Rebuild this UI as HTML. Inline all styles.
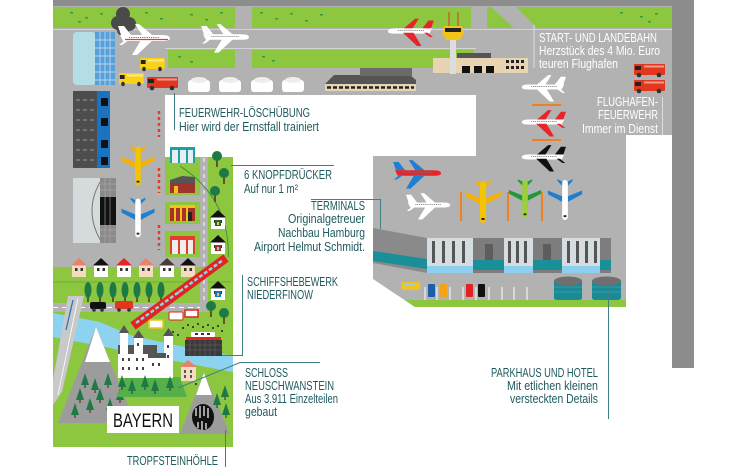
<!DOCTYPE html>
<html><head><meta charset="utf-8"><style>
html,body{margin:0;padding:0;background:#fff;}
svg{display:block;}
.t{font-family:"Liberation Sans Narrow","Liberation Sans",sans-serif;font-size:13px;fill:#1f5a5e;}
.w{font-family:"Liberation Sans Narrow","Liberation Sans",sans-serif;font-size:13px;fill:#fff;}
</style></head><body>
<svg width="748" height="467" viewBox="0 0 748 467" xmlns="http://www.w3.org/2000/svg">
<defs>
<g id="pside">
 <polygon points="-24,-3 -27,-12 -21,-12 -14,-3" fill="currentColor"/>
 <polygon points="-3,-3 -10,-14 -6,-14 7,-3" fill="currentColor"/>
 <path d="M-25,-3 L17,-3 Q25,-3 25,0.5 Q25,3 17,3 L-22,3 Z"/>
 <polygon points="-4,2 -13,17 -8,17 8,2" fill="currentColor"/>
 <polygon points="-20,2 -26,7 -23,7 -16,2" fill="currentColor"/>
 <line x1="-16" y1="-0.5" x2="14" y2="-0.5" stroke="#777" stroke-width="1" stroke-dasharray="1.2 1"/>
</g>
<g id="ptop">
 <polygon points="-3,2 -18,-6 -18,-10 -3,-4" fill="currentColor"/>
 <polygon points="3,2 18,-6 18,-10 3,-4" fill="currentColor"/>
 <polygon points="-2,-14 -8,-20 -8,-22 -2,-19" fill="currentColor"/>
 <polygon points="2,-14 8,-20 8,-22 2,-19" fill="currentColor"/>
 <rect x="-3" y="-21" width="6" height="42" rx="3"/>
 <rect x="-1.5" y="16" width="3" height="2" fill="#222"/>
</g>
<g id="house">
 <rect x="-7" y="0" width="14" height="12"/>
 <polygon points="-8,0.5 0,-7 8,0.5" fill="currentColor"/>
 <rect x="-4" y="3" width="2.5" height="3" fill="#333"/>
 <rect x="1.5" y="3" width="2.5" height="3" fill="#333"/>
</g>
<g id="ctree">
 <rect x="-0.8" y="4" width="1.6" height="8" fill="#5a3a1a"/>
 <ellipse cx="0" cy="0" rx="3.5" ry="8" fill="#1e7a45"/>
</g>
<g id="rtree">
 <rect x="-0.8" y="2" width="1.6" height="9" fill="#5a3a1a"/>
 <circle cx="0" cy="0" r="5" fill="#1e7a45"/>
</g>
<g id="stree">
 <polygon points="0,-7 -4,5 4,5" fill="#1e7a45"/>
 <rect x="-0.6" y="5" width="1.2" height="3" fill="#5a3a1a"/>
</g>
<g id="truck">
 <rect x="0" y="0" width="31" height="11" rx="1" fill="currentColor"/>
 <rect x="1" y="2" width="6" height="4" fill="#222"/>
 <rect x="10" y="1.5" width="20" height="2" fill="#fff" opacity="0.5"/>
 <circle cx="5" cy="11" r="2.3" fill="#333"/><circle cx="25" cy="11" r="2.3" fill="#333"/>
</g>
</defs>

<rect width="748" height="467" fill="#fff"/>

<!-- main gray -->
<polygon points="53,6 672,6 672,135 626,135 626,307 415,307 373,279 373,156 476,156 476,95 165,95 165,270 53,270" fill="#b2b2b2"/>
<rect x="53" y="0" width="641" height="6" fill="#8d8d8d"/>
<rect x="672" y="0" width="22" height="368" fill="#8d8d8d"/>

<!-- runway lines -->
<line x1="53" y1="29.5" x2="672" y2="29.5" stroke="#d4d4d4" stroke-width="1"/>
<line x1="165" y1="48.5" x2="476" y2="48.5" stroke="#d4d4d4" stroke-width="1"/>
<line x1="534" y1="7" x2="534" y2="68" stroke="#e0e0e0" stroke-width="1"/>

<!-- green strips -->
<rect x="53" y="7" width="182" height="21" fill="#8dc63f"/>
<rect x="252" y="7" width="219" height="21" fill="#8dc63f"/>
<polygon points="487,7 491,7 514,28 487,28" fill="#8dc63f"/>
<polygon points="516,7 672,7 672,28 537,28" fill="#8dc63f"/>
<rect x="168" y="50" width="67" height="18" fill="#8dc63f"/>
<rect x="252" y="50" width="222" height="18" fill="#8dc63f"/>
<g fill="#3a9a3a">
<rect x="70" y="12" width="3" height="1.5"/><rect x="85" y="17" width="3" height="1.5"/><rect x="100" y="13" width="3" height="1.5"/><rect x="78" y="21" width="3" height="1.5"/>
<rect x="145" y="12" width="3" height="1.5"/><rect x="160" y="18" width="3" height="1.5"/><rect x="190" y="14" width="3" height="1.5"/><rect x="205" y="19" width="3" height="1.5"/><rect x="220" y="12" width="3" height="1.5"/>
<rect x="260" y="12" width="3" height="1.5"/><rect x="275" y="18" width="3" height="1.5"/><rect x="290" y="13" width="3" height="1.5"/><rect x="305" y="20" width="3" height="1.5"/><rect x="320" y="14" width="3" height="1.5"/>
<rect x="620" y="12" width="3" height="1.5"/><rect x="640" y="16" width="3" height="1.5"/><rect x="655" y="13" width="3" height="1.5"/><rect x="648" y="21" width="3" height="1.5"/>
<rect x="178" y="56" width="3" height="1.5"/><rect x="190" y="61" width="3" height="1.5"/><rect x="262" y="56" width="3" height="1.5"/><rect x="272" y="60" width="3" height="1.5"/>
</g>

<!-- glass building -->
<rect x="73" y="32" width="23" height="53" rx="4" fill="#b5dde6"/>
<rect x="95" y="32" width="20" height="53" fill="#5aa0d8"/>
<g stroke="#cfe6f6" stroke-width="0.7">
<line x1="100" y1="32" x2="100" y2="85"/><line x1="105" y1="32" x2="105" y2="85"/><line x1="110" y1="32" x2="110" y2="85"/>
<line x1="95" y1="40" x2="115" y2="40"/><line x1="95" y1="48" x2="115" y2="48"/><line x1="95" y1="56" x2="115" y2="56"/><line x1="95" y1="64" x2="115" y2="64"/><line x1="95" y1="72" x2="115" y2="72"/><line x1="95" y1="80" x2="115" y2="80"/>
</g>

<!-- smoke -->
<g fill="#4a4a4a"><circle cx="123" cy="14" r="7"/><circle cx="118" cy="23" r="7"/><circle cx="129" cy="24" r="7"/><circle cx="123" cy="30" r="6"/></g>

<!-- planes top -->
<use href="#pside" transform="translate(145,38)" fill="#fff" color="#fff"/>
<line x1="125" y1="39.5" x2="168" y2="39.5" stroke="#e0402a" stroke-width="1.2"/>
<use href="#pside" transform="translate(226,37) scale(0.92)" fill="#fff" color="#fff"/>
<use href="#pside" transform="translate(410,31) scale(-0.88,0.88)" fill="#fff" color="#e8232a"/>

<!-- vehicles -->
<use href="#truck" transform="translate(140,58) scale(0.8,1)" color="#f7d219"/>
<use href="#truck" transform="translate(119,73) scale(0.8,1)" color="#f7d219"/>
<use href="#truck" transform="translate(147,77)" color="#e3361f"/>
<use href="#truck" transform="translate(634,64)" color="#e3361f"/>
<use href="#truck" transform="translate(634,80)" color="#e3361f"/>

<!-- tanks -->
<g fill="#fff">
<rect x="188" y="80" width="22" height="12" rx="3"/><ellipse cx="199" cy="80" rx="8" ry="3" fill="#eee"/>
<rect x="219" y="80" width="22" height="12" rx="3"/><ellipse cx="230" cy="80" rx="8" ry="3" fill="#eee"/>
<rect x="251" y="80" width="22" height="12" rx="3"/><ellipse cx="262" cy="80" rx="8" ry="3" fill="#eee"/>
<rect x="282" y="80" width="22" height="12" rx="3"/><ellipse cx="293" cy="80" rx="8" ry="3" fill="#eee"/>
</g>

<!-- long building -->
<polygon points="325,84 334,75 410,75 416,80 416,84" fill="#555"/>
<rect x="360" y="68" width="52" height="8" fill="#6a6a6a"/>
<rect x="325" y="84" width="91" height="7" fill="#e6d2b5"/>
<line x1="327" y1="87.5" x2="414" y2="87.5" stroke="#222" stroke-width="2.5" stroke-dasharray="4 2"/>

<!-- tower & beige building -->
<rect x="433" y="58" width="95" height="15" fill="#e8d3b3"/>
<rect x="457" y="53" width="34" height="5" fill="#555"/>
<rect x="462" y="66" width="8" height="7" fill="#111"/><rect x="474" y="66" width="8" height="7" fill="#111"/><rect x="486" y="66" width="8" height="7" fill="#111"/>
<g fill="#222"><rect x="506" y="60" width="3" height="3"/><rect x="511" y="60" width="3" height="3"/><rect x="516" y="60" width="3" height="3"/><rect x="521" y="60" width="3" height="3"/><rect x="506" y="66" width="3" height="3"/><rect x="511" y="66" width="3" height="3"/><rect x="516" y="66" width="3" height="3"/><rect x="521" y="66" width="3" height="3"/></g>
<rect x="450" y="38" width="6" height="36" fill="#ddd"/>
<line x1="449" y1="12" x2="449" y2="26" stroke="#e3361f" stroke-width="1"/>
<line x1="458" y1="12" x2="458" y2="26" stroke="#e3361f" stroke-width="1"/>
<polygon points="444,26 462,26 464,33 460,40 446,40 442,33" fill="#f2c318"/>
<rect x="445" y="28" width="16" height="4" fill="#222"/>

<!-- right column planes -->
<use href="#pside" transform="translate(543,87) scale(-0.85,0.85)" fill="#fff" color="#fff"/>
<line x1="532" y1="105" x2="561" y2="105" stroke="#f08020" stroke-width="2"/>
<use href="#pside" transform="translate(543,122) scale(-0.85,0.85)" fill="#fff" color="#e8232a"/>
<line x1="532" y1="140" x2="561" y2="140" stroke="#f08020" stroke-width="2"/>
<use href="#pside" transform="translate(543,157) scale(-0.85,0.85)" fill="#fff" color="#111"/>

<!-- white label box region is background -->

<!-- left buildings -->
<rect x="73" y="91" width="25" height="77" fill="#4d4d4d"/>
<rect x="97" y="91" width="13" height="77" fill="#1a73c0"/>
<g fill="#111"><rect x="101" y="98" width="7" height="8"/><rect x="101" y="118" width="7" height="8"/><rect x="101" y="140" width="7" height="8"/><rect x="101" y="157" width="7" height="8"/></g>
<g stroke="#999" stroke-width="1" stroke-dasharray="4 3"><line x1="76" y1="100" x2="96" y2="100"/><line x1="76" y1="110" x2="96" y2="110"/><line x1="76" y1="120" x2="96" y2="120"/><line x1="76" y1="130" x2="96" y2="130"/><line x1="76" y1="140" x2="96" y2="140"/><line x1="76" y1="150" x2="96" y2="150"/><line x1="76" y1="160" x2="96" y2="160"/></g>
<rect x="73" y="178" width="28" height="65" fill="#d5dadc"/>
<path d="M102,179 Q82,210 102,243" fill="none" stroke="#777" stroke-width="1"/>
<rect x="100" y="178" width="16" height="65" fill="#8a8a8a"/>
<rect x="100" y="197" width="16" height="28" fill="#111"/>
<g stroke="#aaa" stroke-width="0.6"><line x1="105" y1="178" x2="105" y2="243"/><line x1="110" y1="178" x2="110" y2="243"/><line x1="100" y1="184" x2="116" y2="184"/><line x1="100" y1="190" x2="116" y2="190"/><line x1="100" y1="230" x2="116" y2="230"/><line x1="100" y1="236" x2="116" y2="236"/></g>

<use href="#ptop" transform="translate(138,166) scale(0.92)" fill="#f5c400" color="#f5b000"/>
<use href="#ptop" transform="translate(138,218) scale(0.92)" fill="#fff" color="#1f7fd0"/>

<g stroke-width="2.5" stroke="#e53b2f" stroke-dasharray="3 3">
<line x1="159" y1="111" x2="159" y2="137"/><line x1="159" y1="168" x2="159" y2="193"/><line x1="159" y1="225" x2="159" y2="250"/>
</g>

<!-- middle column -->
<rect x="165" y="157" width="68" height="113" fill="#b2b2b2"/>
<rect x="208" y="157" width="25" height="113" fill="#8dc63f"/>
<rect x="165" y="157" width="35" height="38" fill="#8dc63f"/>
<rect x="165" y="202" width="35" height="22" fill="#8dc63f"/>
<rect x="165" y="231" width="35" height="26" fill="#8dc63f"/>
<rect x="200" y="157" width="8" height="155" fill="#b2b2b2"/>
<line x1="204" y1="158" x2="204" y2="303" stroke="#fff" stroke-width="1" stroke-dasharray="4 4"/>
<rect x="170" y="147" width="25" height="16" fill="#1aa0a8"/>
<rect x="172" y="150" width="6" height="13" fill="#e8eef0"/><rect x="180" y="150" width="6" height="13" fill="#e8eef0"/><rect x="188" y="150" width="5" height="13" fill="#e8eef0"/>
<polygon points="170,183 170,180 182,176 195,177 195,183" fill="#555"/>
<rect x="170" y="183" width="25" height="10" fill="#a0342c"/>
<rect x="174" y="186" width="4" height="7" fill="#f2c318"/>
<rect x="170" y="205" width="25" height="16" fill="#a8302a"/>
<rect x="170" y="205" width="25" height="3" fill="#f2c318"/>
<rect x="174" y="208" width="2" height="13" fill="#f2c318"/><rect x="180" y="208" width="2" height="13" fill="#f2c318"/><rect x="186" y="208" width="2" height="13" fill="#f2c318"/><rect x="188" y="212" width="4" height="9" fill="#222"/>
<rect x="170" y="236" width="25" height="18" fill="#e53b2f"/>
<rect x="172" y="240" width="6" height="14" fill="#eee"/><rect x="180" y="240" width="6" height="14" fill="#eee"/><rect x="188" y="240" width="5" height="14" fill="#eee"/>
<path d="M180,166 Q232,200 228,262" fill="none" stroke="#2d8a3a" stroke-width="0.8"/>
<use href="#rtree" transform="translate(217,156)"/>
<use href="#rtree" transform="translate(224,173)"/>
<use href="#rtree" transform="translate(215,191)"/>
<use href="#house" transform="translate(218,217)" fill="#fff" color="#111"/>
<rect x="215" y="220" width="6" height="6" fill="#1e6a40"/><rect x="217" y="222" width="2" height="3" fill="#f2c318"/>
<use href="#house" transform="translate(218,242)" fill="#fff" color="#111"/>
<rect x="215" y="245" width="6" height="6" fill="#a0342c"/><rect x="217" y="247" width="2" height="3" fill="#8fd0ef"/>
<use href="#house" transform="translate(218,288)" fill="#fff" color="#111"/>
<rect x="215" y="291" width="6" height="6" fill="#1a73c0"/><rect x="217" y="293" width="2" height="3" fill="#f2c318"/>

<!-- green region bottom-left -->
<rect x="53" y="267" width="180" height="180" fill="#8dc63f"/>
<rect x="208" y="257" width="25" height="15" fill="#8dc63f"/>
<line x1="53" y1="282" x2="233" y2="282" stroke="#5fa83a" stroke-width="0.7"/>
<use href="#house" transform="translate(218,288)" fill="#fff" color="#111"/>
<rect x="215" y="291" width="6" height="6" fill="#1a73c0"/><rect x="217" y="293" width="2" height="3" fill="#f2c318"/>
<rect x="200" y="270" width="8" height="42" fill="#b2b2b2"/>
<line x1="204" y1="272" x2="204" y2="303" stroke="#fff" stroke-width="1" stroke-dasharray="4 4"/>
<use href="#house" transform="translate(79,265)" fill="#f3dcc0" color="#e8826a"/>
<use href="#house" transform="translate(101,265)" fill="#fff" color="#111"/>
<use href="#house" transform="translate(124,265)" fill="#fff" color="#e22"/>
<use href="#house" transform="translate(146,265)" fill="#f3dcc0" color="#e8826a"/>
<use href="#house" transform="translate(167,265)" fill="#fff" color="#4a3b3b"/>
<use href="#house" transform="translate(188,265)" fill="#f3dcc0" color="#111"/>
<use href="#ctree" transform="translate(88,290)"/><use href="#ctree" transform="translate(100,290)"/><use href="#ctree" transform="translate(113,290)"/><use href="#ctree" transform="translate(125,290)"/><use href="#ctree" transform="translate(137,290)"/><use href="#ctree" transform="translate(149,290)"/><use href="#ctree" transform="translate(161,290)"/>

<!-- road -->
<rect x="53" y="303" width="155" height="9" fill="#b2b2b2"/>
<line x1="53" y1="307.5" x2="200" y2="307.5" stroke="#fff" stroke-width="1" stroke-dasharray="5 4"/>
<rect x="90" y="302" width="16" height="7" rx="2" fill="#111"/><circle cx="94" cy="310" r="1.8" fill="#333"/><circle cx="102" cy="310" r="1.8" fill="#333"/>
<rect x="115" y="301" width="18" height="8" rx="2" fill="#e3361f"/><circle cx="119" cy="310" r="1.8" fill="#333"/><circle cx="129" cy="310" r="1.8" fill="#333"/>

<!-- river -->
<path d="M53,313 L100,322 L130,335 L175,345 L233,356 L233,372 L185,363 L130,352 L100,346 L53,337 Z" fill="#8dd3f0"/>
<!-- highway -->
<polygon points="68,296 84,296 62,392 53,405 53,380" fill="#c9c9c9"/>
<line x1="78" y1="298" x2="58" y2="395" stroke="#fff" stroke-width="0.8"/>
<line x1="73" y1="300" x2="66" y2="330" stroke="#1a73c0" stroke-width="1.2"/>

<!-- train -->
<line x1="133" y1="326" x2="226" y2="258" stroke="#e3231f" stroke-width="9"/>
<line x1="136" y1="323" x2="223" y2="260" stroke="#8fd0ef" stroke-width="2.5" stroke-dasharray="4 2"/>
<line x1="178" y1="293" x2="180" y2="291" stroke="#b2b2b2" stroke-width="2"/>

<!-- left mountain -->
<polygon points="96,327 58,423 135,423" fill="#9c9c9c"/>
<polygon points="96,327 85,362 110,362" fill="#fff"/>
<use href="#stree" transform="translate(80,395)"/><use href="#stree" transform="translate(90,405)"/><use href="#stree" transform="translate(100,395)"/><use href="#stree" transform="translate(75,410)"/><use href="#stree" transform="translate(110,405)"/><use href="#stree" transform="translate(95,385)"/><use href="#stree" transform="translate(120,395)"/><use href="#stree" transform="translate(108,380)"/><use href="#stree" transform="translate(85,380)"/>

<!-- castle lawn -->
<polygon points="125,377 180,377 187,397 117,397" fill="#56b04a"/>
<!-- castle -->
<rect x="118" y="345" width="39" height="33" fill="#fff"/>
<rect x="118" y="345" width="39" height="9" fill="#555"/>
<rect x="120" y="333" width="8" height="45" fill="#fff"/><polygon points="119,333 124,325 129,333" fill="#555"/>
<rect x="134" y="338" width="9" height="40" fill="#fff"/><polygon points="133,338 138.5,330 144,338" fill="#555"/>
<rect x="164" y="336" width="9" height="42" fill="#fff"/><polygon points="163,336 168.5,328 174,336" fill="#555"/>
<rect x="148" y="358" width="18" height="20" fill="#fff"/><rect x="148" y="353" width="18" height="5" fill="#555"/>
<g fill="#444"><rect x="122" y="358" width="2" height="3"/><rect x="128" y="358" width="2" height="3"/><rect x="136" y="358" width="2" height="3"/><rect x="142" y="358" width="2" height="3"/><rect x="122" y="367" width="2" height="3"/><rect x="128" y="367" width="2" height="3"/><rect x="136" y="367" width="2" height="3"/><rect x="142" y="367" width="2" height="3"/><rect x="152" y="363" width="2" height="3"/><rect x="158" y="363" width="2" height="3"/><rect x="167" y="345" width="2" height="3"/><rect x="167" y="355" width="2" height="3"/><rect x="137" y="343" width="2" height="3"/></g>
<use href="#stree" transform="translate(122,382)"/><use href="#stree" transform="translate(132,386)"/><use href="#stree" transform="translate(145,382)"/><use href="#stree" transform="translate(155,386)"/><use href="#stree" transform="translate(170,383)"/>

<!-- ship lift -->
<rect x="185" y="340" width="37" height="16" fill="#3a3a3a"/>
<g stroke="#666" stroke-width="0.6"><line x1="190" y1="340" x2="190" y2="356"/><line x1="195" y1="340" x2="195" y2="356"/><line x1="200" y1="340" x2="200" y2="356"/><line x1="205" y1="340" x2="205" y2="356"/><line x1="210" y1="340" x2="210" y2="356"/><line x1="215" y1="340" x2="215" y2="356"/><line x1="185" y1="345" x2="222" y2="345"/><line x1="185" y1="350" x2="222" y2="350"/></g>
<rect x="186" y="337" width="35" height="3" fill="#e3231f"/>
<rect x="191" y="332" width="24" height="5" rx="1" fill="#fff"/>
<rect x="195" y="333" width="3" height="2" fill="#333"/><rect x="201" y="333" width="3" height="2" fill="#333"/><rect x="207" y="333" width="3" height="2" fill="#333"/>

<!-- hotel house -->
<rect x="181" y="366" width="15" height="15" fill="#f3dcc0"/><polygon points="180,367 188,360 197,367" fill="#e8826a"/>
<g fill="#555"><rect x="184" y="370" width="2" height="3"/><rect x="190" y="370" width="2" height="3"/><rect x="184" y="375" width="2" height="3"/><rect x="190" y="375" width="2" height="3"/></g>

<!-- buses -->
<rect x="149" y="320" width="14" height="8" rx="1" fill="#fff" stroke="#f2c318" stroke-width="1.5"/>
<rect x="169" y="312" width="14" height="8" rx="1" fill="#fff" stroke="#e3231f" stroke-width="1"/>
<rect x="185" y="310" width="13" height="7" fill="#fff" stroke="#e3231f" stroke-width="1.5"/>
<!-- people -->
<g fill="#222"><circle cx="183" cy="328" r="1"/><circle cx="188" cy="325" r="1"/><circle cx="193" cy="327" r="1"/><circle cx="198" cy="324" r="1"/><circle cx="203" cy="327" r="1"/><circle cx="208" cy="325" r="1"/><circle cx="213" cy="328" r="1"/><circle cx="218" cy="326" r="1"/><circle cx="173" cy="332" r="1"/><circle cx="178" cy="335" r="1"/><circle cx="222" cy="331" r="1"/><circle cx="196" cy="384" r="1"/><circle cx="200" cy="388" r="1"/></g>
<use href="#rtree" transform="translate(211,306)"/><use href="#rtree" transform="translate(224,313)"/>

<!-- right mountain -->
<polygon points="204,373 180,434 230,434" fill="#9c9c9c"/>
<polygon points="204,373 196,395 212,395" fill="#fff"/>
<ellipse cx="203" cy="417" rx="11" ry="13" fill="#111"/>
<g stroke="#eee" stroke-width="1.3"><line x1="196" y1="408" x2="196" y2="416"/><line x1="200" y1="406" x2="200" y2="418"/><line x1="204" y1="406" x2="204" y2="416"/><line x1="208" y1="408" x2="208" y2="418"/><line x1="198" y1="428" x2="198" y2="422"/><line x1="202" y1="430" x2="202" y2="421"/><line x1="206" y1="429" x2="206" y2="423"/></g>
<use href="#stree" transform="translate(225,392)"/><use href="#stree" transform="translate(217,400)"/><use href="#stree" transform="translate(226,410)"/>

<!-- BAYERN -->
<rect x="107" y="406" width="72" height="27" fill="#fff"/>
<text x="113" y="427" font-family="Liberation Sans,sans-serif" font-size="19" fill="#111" textLength="60" lengthAdjust="spacingAndGlyphs">BAYERN</text>

<!-- terminal -->
<polygon points="373,228 427,238 427,273 373,263" fill="#8a8a8a"/>
<polygon points="373,251 427,259 427,269 373,261" fill="#1b8f99"/>
<rect x="427" y="238" width="184" height="35" fill="#7d7d7d"/>
<rect x="485" y="244" width="8" height="24" fill="#5d5d5d"/>
<rect x="543" y="244" width="8" height="24" fill="#5d5d5d"/>
<rect x="427" y="260" width="184" height="10" fill="#1b8f99"/>
<rect x="427" y="238" width="46" height="35" fill="#d5dde1"/>
<rect x="504" y="238" width="29" height="35" fill="#d5dde1"/>
<rect x="562" y="238" width="38" height="35" fill="#d5dde1"/>
<g fill="#555"><rect x="432" y="241" width="3" height="22"/><rect x="442" y="241" width="3" height="22"/><rect x="452" y="241" width="3" height="22"/><rect x="462" y="241" width="3" height="22"/>
<rect x="508" y="241" width="3" height="22"/><rect x="516" y="241" width="3" height="22"/><rect x="524" y="241" width="3" height="22"/>
<rect x="567" y="241" width="3" height="22"/><rect x="576" y="241" width="3" height="22"/><rect x="585" y="241" width="3" height="22"/><rect x="594" y="241" width="3" height="22"/></g>
<rect x="427" y="266" width="46" height="7" fill="#8ccfee"/><rect x="504" y="266" width="29" height="7" fill="#8ccfee"/><rect x="562" y="266" width="38" height="7" fill="#8ccfee"/>

<!-- terminal planes -->
<use href="#pside" transform="translate(418,173) scale(0.92)" fill="#e8232a" color="#1f7fd0"/>
<use href="#pside" transform="translate(429,205) scale(0.85)" fill="#fff" color="#fff"/>
<g stroke="#f08020" stroke-width="2"><line x1="461" y1="192" x2="461" y2="221"/><line x1="508" y1="192" x2="508" y2="221"/><line x1="542" y1="192" x2="542" y2="221"/></g>
<use href="#ptop" transform="translate(483,202)" fill="#f5c400" color="#f5b000"/>
<use href="#ptop" transform="translate(525,199) scale(0.9)" fill="#9ccf3a" color="#1f9a3a"/>
<use href="#ptop" transform="translate(565,200) scale(0.95)" fill="#fff" color="#1f7fd0"/>

<!-- parking -->
<g stroke="#fff" stroke-width="1"><line x1="425" y1="287" x2="425" y2="300"/><line x1="437" y1="287" x2="437" y2="300"/><line x1="450" y1="287" x2="450" y2="300"/><line x1="463" y1="287" x2="463" y2="300"/><line x1="476" y1="287" x2="476" y2="300"/><line x1="489" y1="287" x2="489" y2="300"/><line x1="502" y1="287" x2="502" y2="300"/><line x1="514" y1="287" x2="514" y2="300"/><line x1="527" y1="287" x2="527" y2="300"/></g>
<rect x="401" y="282" width="19" height="8" rx="2" fill="#f2c318"/><rect x="404" y="283" width="12" height="3" fill="#8fd0ef"/>
<rect x="428" y="284" width="7" height="13" rx="1" fill="#1a5fa8"/>
<rect x="440" y="284" width="7" height="13" rx="1" fill="#f2a318"/>
<rect x="466" y="284" width="7" height="13" rx="1" fill="#e3231f"/>
<rect x="478" y="284" width="7" height="13" rx="1" fill="#111"/>
<!-- cylinders -->
<rect x="554" y="281" width="28" height="17" fill="#1a8a95"/><ellipse cx="568" cy="298" rx="14" ry="4" fill="#1a8a95"/><ellipse cx="568" cy="281" rx="14" ry="4.5" fill="#6f6f6f"/>
<rect x="592" y="281" width="29" height="17" fill="#1a8a95"/><ellipse cx="606.5" cy="298" rx="14.5" ry="4" fill="#1a8a95"/><ellipse cx="606.5" cy="281" rx="14.5" ry="4.5" fill="#6f6f6f"/>
<g stroke="#43b3bd" stroke-width="0.6"><line x1="554" y1="287" x2="582" y2="287"/><line x1="554" y1="292" x2="582" y2="292"/><line x1="592" y1="287" x2="621" y2="287"/><line x1="592" y1="292" x2="621" y2="292"/></g>
<polygon points="405,300 626,300 626,307 415,307" fill="#8dc63f"/>

<!-- connectors -->
<g stroke="#3f7f86" stroke-width="1" fill="none">
<line x1="174.5" y1="93" x2="174.5" y2="130"/>
<line x1="231" y1="165.5" x2="334" y2="165.5"/>
<polyline points="311,199.5 380.5,199.5 380.5,229"/>
<polyline points="242.5,275 242.5,355.5 222,355.5"/>
<polyline points="320,362.5 240,362.5 178,388"/>
<line x1="225.5" y1="430" x2="225.5" y2="467"/>
<line x1="608.5" y1="290" x2="608.5" y2="419"/>
</g>
<g stroke="#ddd" stroke-width="1"><line x1="662.5" y1="97" x2="662.5" y2="135"/></g>

<!-- labels -->
<text class="t" x="179" y="117" textLength="131" lengthAdjust="spacingAndGlyphs">FEUERWEHR-LÖSCHÜBUNG</text>
<text class="t" x="179" y="131" textLength="140" lengthAdjust="spacingAndGlyphs">Hier wird der Ernstfall trainiert</text>
<text class="t" x="244" y="179" textLength="88" lengthAdjust="spacingAndGlyphs">6 KNOPFDRÜCKER</text>
<text class="t" x="244" y="193" textLength="54" lengthAdjust="spacingAndGlyphs">Auf nur 1 m²</text>
<text class="t" x="311" y="210" textLength="54" lengthAdjust="spacingAndGlyphs">TERMINALS</text>
<text class="t" x="288" y="223" textLength="77" lengthAdjust="spacingAndGlyphs">Originalgetreuer</text>
<text class="t" x="278" y="237" textLength="87" lengthAdjust="spacingAndGlyphs">Nachbau Hamburg</text>
<text class="t" x="254" y="251" textLength="111" lengthAdjust="spacingAndGlyphs">Airport Helmut Schmidt.</text>
<text class="t" x="247" y="286" textLength="91" lengthAdjust="spacingAndGlyphs">SCHIFFSHEBEWERK</text>
<text class="t" x="247" y="299" textLength="66" lengthAdjust="spacingAndGlyphs">NIEDERFINOW</text>
<text class="t" x="245" y="377" textLength="43" lengthAdjust="spacingAndGlyphs">SCHLOSS</text>
<text class="t" x="245" y="390" textLength="89" lengthAdjust="spacingAndGlyphs">NEUSCHWANSTEIN</text>
<text class="t" x="245" y="403" textLength="93" lengthAdjust="spacingAndGlyphs">Aus 3.911 Einzelteilen</text>
<text class="t" x="245" y="416" textLength="32" lengthAdjust="spacingAndGlyphs">gebaut</text>
<text class="t" x="127" y="465" textLength="91" lengthAdjust="spacingAndGlyphs">TROPFSTEINHÖHLE</text>
<text class="t" x="491" y="377" textLength="107" lengthAdjust="spacingAndGlyphs">PARKHAUS UND HOTEL</text>
<text class="t" x="507" y="390" textLength="91" lengthAdjust="spacingAndGlyphs">Mit etlichen kleinen</text>
<text class="t" x="510" y="403" textLength="88" lengthAdjust="spacingAndGlyphs">versteckten Details</text>
<text class="w" x="539" y="42" textLength="118" lengthAdjust="spacingAndGlyphs">START- UND LANDEBAHN</text>
<text class="w" x="539" y="55" textLength="121" lengthAdjust="spacingAndGlyphs">Herzstück des 4 Mio. Euro</text>
<text class="w" x="539" y="68" textLength="79" lengthAdjust="spacingAndGlyphs">teuren Flughafen</text>
<text class="w" x="597" y="106" textLength="61" lengthAdjust="spacingAndGlyphs">FLUGHAFEN-</text>
<text class="w" x="598" y="119" textLength="60" lengthAdjust="spacingAndGlyphs">FEUERWEHR</text>
<text class="w" x="582" y="133" textLength="76" lengthAdjust="spacingAndGlyphs">Immer im Dienst</text>
</svg>
</body></html>
